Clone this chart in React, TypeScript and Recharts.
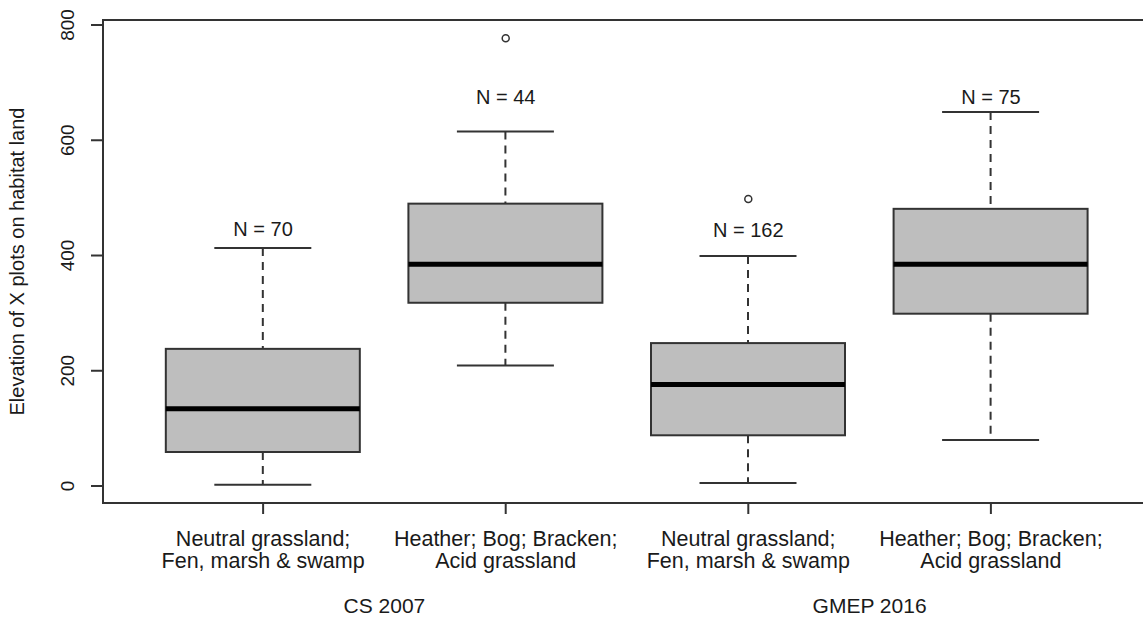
import { ComposedChart, Bar, Scatter, XAxis, YAxis, Label, ReferenceArea } from "recharts";

// group positions along the x axis
const positions = [1, 2, 3, 4];
const habitats = [
  ["Neutral grassland;", "Fen, marsh & swamp"],
  ["Heather; Bog; Bracken;", "Acid grassland"],
  ["Neutral grassland;", "Fen, marsh & swamp"],
  ["Heather; Bog; Bracken;", "Acid grassland"],
];
const surveyPositions = [1.5, 3.5];
const surveys = ["CS 2007", "GMEP 2016"];

// five-number summaries
const mins = [2, 209, 5, 80];
const q1s = [59, 318, 88, 299];
const medians = [134, 385, 176, 385];
const q3s = [238, 490, 248, 481];
const maxs = [413, 615, 399, 649];

const outlierX = [2, 3];
const outlierY = [777, 498];

const counts = [70, 44, 162, 75];
const countLabelY = [446, 675, 445, 675];

const yTicks = [0, 200, 400, 600, 800];
const xDomain = [0.34, 4.66];
const yDomain = [-29.5, 808.7];

const FONT = "'Liberation Sans', Arial, sans-serif";
const INK = "#333";
const TEXT = "#1a1a1a";

const rows = positions.map((x, i) => ({
  x,
  box: [q1s[i], q3s[i]],
  min: mins[i],
  q1: q1s[i],
  median: medians[i],
  q3: q3s[i],
  max: maxs[i],
}));

const outliers = outlierX.map((x, i) => ({ x, y: outlierY[i] }));
const countLabels = positions.map((x, i) => ({ x, y: countLabelY[i], n: counts[i] }));

// draws whiskers, box and median from the bar's own pixel box
function BoxPlotShape(props: any) {
  const { x, y, width, height, payload } = props;
  const top = Math.min(y, y + height);
  const h = Math.abs(height);
  const k = h / (payload.q3 - payload.q1);
  const toPx = (v: number) => top + (payload.q3 - v) * k;
  const cx = x + width / 2;
  const cap = width / 4;
  return (
    <g>
      <line x1={cx} x2={cx} y1={toPx(payload.max)} y2={toPx(payload.q3)} stroke={INK} strokeWidth={2} strokeDasharray="8 6" />
      <line x1={cx} x2={cx} y1={toPx(payload.q1)} y2={toPx(payload.min)} stroke={INK} strokeWidth={2} strokeDasharray="8 6" />
      <line x1={cx - cap} x2={cx + cap} y1={toPx(payload.max)} y2={toPx(payload.max)} stroke={INK} strokeWidth={2} />
      <line x1={cx - cap} x2={cx + cap} y1={toPx(payload.min)} y2={toPx(payload.min)} stroke={INK} strokeWidth={2} />
      <rect x={x} y={top} width={width} height={h} fill="#bebebe" stroke={INK} strokeWidth={2} />
      <line x1={x} x2={x + width} y1={toPx(payload.median)} y2={toPx(payload.median)} stroke="#000" strokeWidth={5} />
    </g>
  );
}

const OutlierShape = (props: any) => (
  <circle cx={props.cx} cy={props.cy} r={3.5} fill="none" stroke={INK} strokeWidth={1.5} />
);

const CountShape = (props: any) => (
  <text x={props.cx} y={props.cy} dy="0.35em" textAnchor="middle" fontSize={20} fontFamily={FONT} fill={TEXT}>
    N = {props.payload.n}
  </text>
);

const HabitatTick = (props: any) => {
  const { x, y, index } = props;
  const lines = habitats[index] || [];
  return (
    <text x={x} y={y} textAnchor="middle" fontSize={21.5} fontFamily={FONT} fill={TEXT}>
      {lines.map((t, i) => (
        <tspan key={i} x={x} dy={i === 0 ? 32 : 22}>
          {t}
        </tspan>
      ))}
    </text>
  );
};

const SurveyTick = (props: any) => {
  const { x, y, index } = props;
  return (
    <text x={x} y={y} dy={40} textAnchor="middle" fontSize={21} fontFamily={FONT} fill={TEXT}>
      {surveys[index]}
    </text>
  );
};

const ElevationTick = (props: any) => {
  const { x, y, payload } = props;
  const tx = x - 17;
  return (
    <text x={tx} y={y} textAnchor="middle" fontSize={19} fontFamily={FONT} fill={TEXT} transform={`rotate(-90 ${tx} ${y})`}>
      {payload.value}
    </text>
  );
};

const YTitle = (props: any) => {
  const { viewBox } = props;
  const tx = viewBox.x + 24;
  const ty = viewBox.y + viewBox.height / 2;
  return (
    <text x={tx} y={ty} textAnchor="middle" fontSize={20} fontFamily={FONT} fill={TEXT} transform={`rotate(-90 ${tx} ${ty})`}>
      Elevation of X plots on habitat land
    </text>
  );
};

export default function App() {
  return (
    <div style={{ position: "absolute", left: 0, top: 0, width: 1143, height: 617, overflow: "hidden", background: "#fff" }}>
      <ComposedChart width={1151} height={617} data={rows} margin={{ top: 20, right: 0, bottom: 0, left: 0 }}>
        <XAxis
          dataKey="x"
          type="number"
          domain={xDomain}
          allowDataOverflow
          ticks={positions}
          interval={0}
          height={70}
          tickSize={11}
          tickMargin={0}
          axisLine={false}
          stroke={INK}
          tickLine={{ stroke: INK, strokeWidth: 2 }}
          tick={<HabitatTick />}
        />
        <XAxis
          xAxisId="survey"
          dataKey="x"
          type="number"
          domain={xDomain}
          allowDataOverflow
          ticks={surveyPositions}
          interval={0}
          height={44}
          tickSize={0}
          tickMargin={0}
          axisLine={false}
          tickLine={false}
          tick={<SurveyTick />}
        />
        <YAxis
          type="number"
          domain={yDomain}
          allowDataOverflow
          ticks={yTicks}
          interval={0}
          width={103}
          tickSize={12}
          tickMargin={0}
          axisLine={false}
          stroke={INK}
          tickLine={{ stroke: INK, strokeWidth: 2 }}
          tick={<ElevationTick />}
        >
          <Label content={<YTitle />} />
        </YAxis>
        <ReferenceArea
          x1={xDomain[0]}
          x2={xDomain[1]}
          y1={yDomain[0]}
          y2={yDomain[1]}
          fill="none"
          fillOpacity={0}
          stroke={INK}
          strokeWidth={2}
          strokeOpacity={1}
        />
        <Bar dataKey="box" barSize={194} shape={<BoxPlotShape />} isAnimationActive={false} />
        <Scatter data={outliers} dataKey="y" shape={<OutlierShape />} isAnimationActive={false} />
        <Scatter data={countLabels} dataKey="y" shape={<CountShape />} isAnimationActive={false} />
      </ComposedChart>
    </div>
  );
}
